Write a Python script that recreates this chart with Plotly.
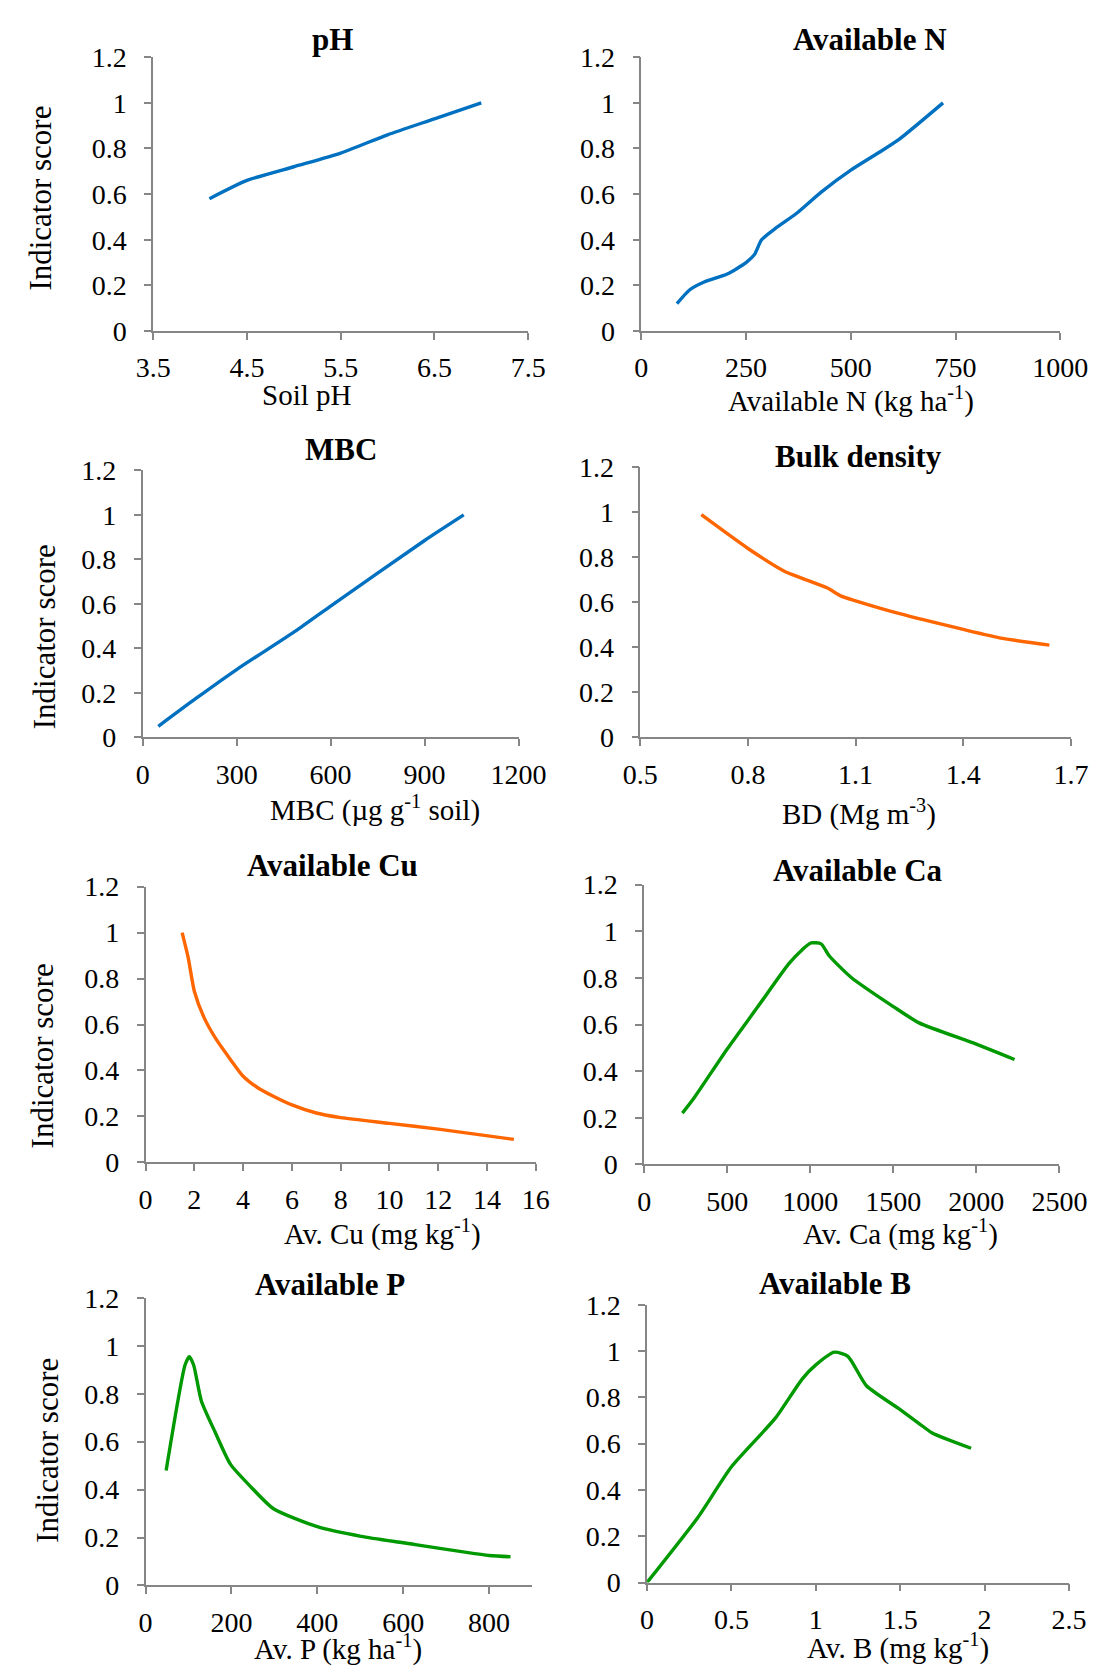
import plotly.graph_objects as go

W, H = 1120, 1679

# ---------------- data ----------------
ph_x = [4.1, 4.5, 5.0, 5.5, 6.0, 6.5, 7.0]
ph_y = [0.58, 0.66, 0.72, 0.78, 0.86, 0.93, 1.0]

n_x = [85, 115, 150, 205, 250, 270, 287, 320, 370, 430, 500, 565, 615, 720]
n_y = [0.12, 0.18, 0.215, 0.25, 0.30, 0.335, 0.40, 0.45, 0.515, 0.61, 0.705, 0.78, 0.84, 1.0]

mbc_x = [50, 170, 300, 490, 600, 900, 1025]
mbc_y = [0.05, 0.175, 0.305, 0.48, 0.59, 0.885, 1.0]

bd_x = [0.67, 0.8, 0.9, 1.02, 1.06, 1.1, 1.22, 1.4, 1.51, 1.64]
bd_y = [0.99, 0.84, 0.74, 0.665, 0.628, 0.607, 0.551, 0.48, 0.44, 0.41]

cu_x = [1.5, 1.75, 2.0, 2.4, 2.9, 3.5, 4.0, 4.6, 5.2, 6.0, 7.0, 8.0, 10.0, 12.0, 15.1]
cu_y = [1.0, 0.89, 0.745, 0.63, 0.535, 0.445, 0.375, 0.325, 0.29, 0.25, 0.215, 0.195, 0.17, 0.145, 0.10]

ca_x = [230, 300, 500, 685, 870, 950, 1005, 1065, 1115, 1245, 1500, 1655, 2000, 2230]
ca_y = [0.22, 0.285, 0.495, 0.677, 0.86, 0.92, 0.95, 0.946, 0.894, 0.803, 0.677, 0.607, 0.516, 0.45]

p_x = [48, 92, 102, 112, 130, 162, 198, 246, 298, 400, 502, 600, 800, 850]
p_y = [0.48, 0.92, 0.955, 0.92, 0.77, 0.64, 0.505, 0.41, 0.32, 0.245, 0.205, 0.178, 0.125, 0.12]

b_x = [0, 0.3, 0.5, 0.76, 0.92, 1.0, 1.11, 1.19, 1.3, 1.49, 1.61, 1.69, 1.92]
b_y = [0, 0.28, 0.5, 0.71, 0.88, 0.94, 0.995, 0.977, 0.85, 0.752, 0.688, 0.646, 0.58]

titles = ["pH", "Available N", "MBC", "Bulk density",
          "Available Cu", "Available Ca", "Available P", "Available B"]
xtitles = ["Soil pH", "Available N (kg ha<sup>-1</sup>)", "MBC (µg g<sup>-1</sup> soil)",
           "BD (Mg m<sup>-3</sup>)", "Av. Cu (mg kg<sup>-1</sup>)", "Av. Ca (mg kg<sup>-1</sup>)",
           "Av. P (kg ha<sup>-1</sup>)", "Av. B (mg kg<sup>-1</sup>)"]
ytitle = "Indicator score"
ytickvals = [0, 0.2, 0.4, 0.6, 0.8, 1.0, 1.2]
yticktext = ["0", "0.2", "0.4", "0.6", "0.8", "1", "1.2"]

BLUE, ORANGE, GREEN = "#0070C0", "#FF6600", "#009900"

series = [
    (ph_x, ph_y, BLUE), (n_x, n_y, BLUE), (mbc_x, mbc_y, BLUE), (bd_x, bd_y, ORANGE),
    (cu_x, cu_y, ORANGE), (ca_x, ca_y, GREEN), (p_x, p_y, GREEN), (b_x, b_y, GREEN),
]

xranges = [(3.5, 7.5), (0, 1000), (0, 1200), (0.5, 1.7), (0, 16), (0, 2500), (0, 900), (0, 2.5)]
xtickvals = [
    [3.5, 4.5, 5.5, 6.5, 7.5],
    [0, 250, 500, 750, 1000],
    [0, 300, 600, 900, 1200],
    [0.5, 0.8, 1.1, 1.4, 1.7],
    list(range(0, 17, 2)),
    [0, 500, 1000, 1500, 2000, 2500],
    [0, 200, 400, 600, 800],
    [0, 0.5, 1, 1.5, 2, 2.5],
]

# ---------------- layout (pixel boxes: left, right, top, bottom) ----------------
boxes = [
    (141, 532, 43, 322), (650, 1087, 43, 322),
    (130, 522, 464, 736), (649, 1098, 461, 736),
    (133, 540, 888, 1169), (653, 1086, 886, 1171),
    (133, 536, 1307, 1600), (656, 1096, 1314, 1597),
]
title_pos = [(328, 25), (888, 25), (337, 443), (876, 450),
             (328, 867), (876, 872), (325, 1293), (852, 1292)]
xtitle_pos = [(301, 387), (869, 392), (372, 808), (877, 813),
              (380, 1240), (920, 1240), (334, 1663), (918, 1662)]
ytitle_pos = [(23, 187), None, (27, 633), None, (25, 1060), None, (30, 1462), None]

FONT = "Liberation Serif"
AXC = "#868686"

fig = go.Figure()
layout = dict(
    width=W, height=H, margin=dict(l=0, r=0, t=0, b=0),
    paper_bgcolor="white", plot_bgcolor="white", showlegend=False,
    font=dict(family=FONT, color="black", size=28),
)
annotations = []


def px(x):
    return x / W


def py(y):
    return 1 - y / H


for i, ((xs, ys, col), box) in enumerate(zip(series, boxes)):
    k = "" if i == 0 else str(i + 1)
    fig.add_trace(go.Scatter(x=xs, y=ys, mode="lines", xaxis="x" + k, yaxis="y" + k,
                             line=dict(color=col, width=3.4, shape="spline", smoothing=0.6),
                             hoverinfo="skip"))
    l, r, t, b = box
    layout["xaxis" + k] = dict(
        domain=[px(l), px(r)], anchor="y" + k, range=list(xranges[i]),
        tickmode="array", tickvals=xtickvals[i], showgrid=False, zeroline=False,
        showline=True, linecolor=AXC, linewidth=1.5, ticks="outside", ticklen=7,
        tickcolor=AXC, tickwidth=1.5,
        tickfont=dict(size=28, family=FONT, color="black"),
        ticklabelstandoff=4,
    )
    layout["yaxis" + k] = dict(
        domain=[py(b), py(t)], anchor="x" + k, range=[0, 1.2],
        tickmode="array", tickvals=ytickvals, ticktext=yticktext,
        showgrid=False, zeroline=False,
        showline=True, linecolor=AXC, linewidth=1.5, ticks="outside", ticklen=7,
        tickcolor=AXC, tickwidth=1.5,
        tickfont=dict(size=28, family=FONT, color="black"),
        ticklabelstandoff=12,
    )
    tx, ty = title_pos[i]
    annotations.append(dict(text="<b>" + titles[i] + "</b>", x=px(tx), y=py(ty),
                            xref="paper", yref="paper", showarrow=False,
                            xanchor="center", yanchor="middle",
                            font=dict(size=31, family=FONT, color="black")))
    ax_, ay_ = xtitle_pos[i]
    annotations.append(dict(text=xtitles[i], x=px(ax_), y=py(ay_),
                            xref="paper", yref="paper", showarrow=False,
                            xanchor="center", yanchor="middle",
                            font=dict(size=29, family=FONT, color="black")))
    if ytitle_pos[i] is not None:
        yx, yy = ytitle_pos[i]
        annotations.append(dict(text=ytitle, x=px(yx), y=py(yy), textangle=-90,
                                xref="paper", yref="paper", showarrow=False,
                                xanchor="center", yanchor="middle",
                                font=dict(size=31, family=FONT, color="black")))

layout["annotations"] = annotations
fig.update_layout(**layout)
fig.write_html("out.html")
